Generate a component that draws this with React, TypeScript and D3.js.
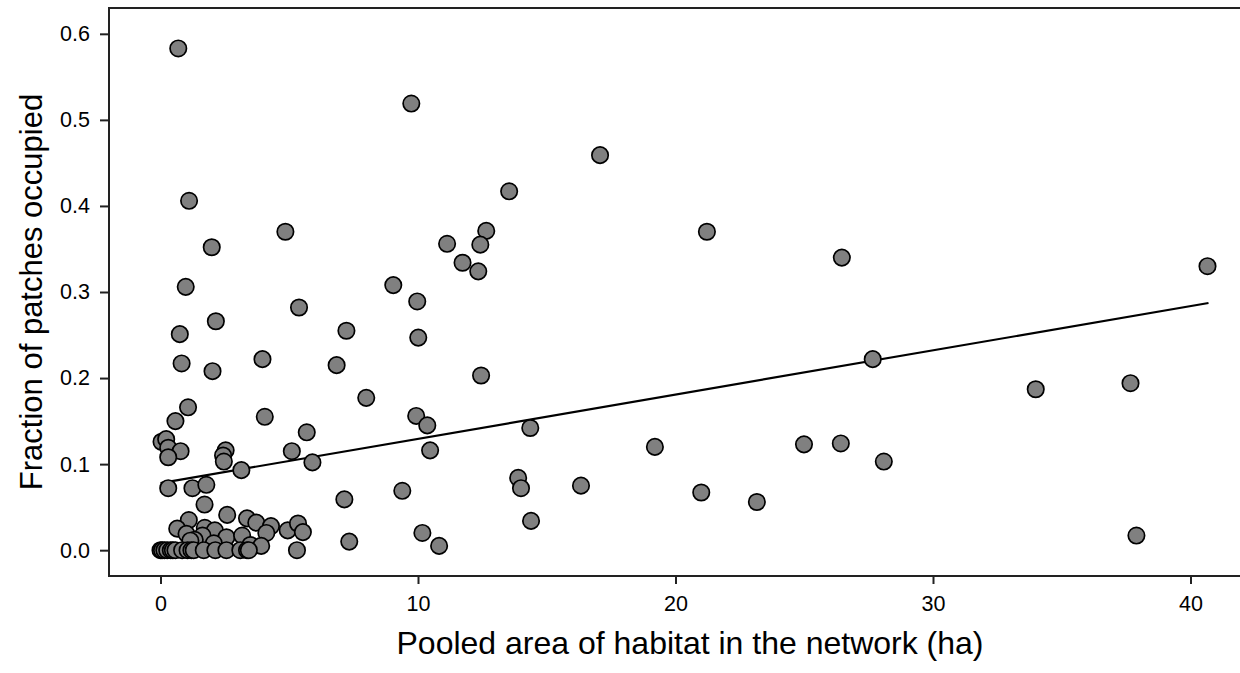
import React, { useEffect, useRef } from 'react';
import * as d3 from 'd3';

// pooled area (ha) and fraction of patches occupied
const areaHa = [
  0.69, 9.74, 17.07, 13.54, 1.11, 4.85, 12.65, 21.22, 1.99, 11.13,
  12.42, 11.73, 12.34, 26.46, 40.66, 9.04, 0.98, 5.38, 9.97, 2.15,
  0.75, 7.22, 10.01, 6.84, 3.96, 0.82, 27.66, 2.02, 7.99, 33.99,
  37.67, 12.45, 1.07, 4.05, 9.93, 0.58, 10.36, 14.36, 5.68, 0.04,
  0.22, 0.3, 0.78, 0.3, 2.53, 2.43, 2.46, 5.1, 5.9, 10.47,
  3.14, 19.2, 24.99, 26.42, 28.09, 13.89, 14.0, 16.33, 9.39, 21.0,
  23.16, 0.3, 1.24, 1.78, 7.14, 1.71, 1.1, 2.59, 3.36, 3.72,
  4.29, 4.11, 4.94, 5.34, 5.53, 14.39, 10.17, 10.82, 7.33, 37.9,
  0.65, 1.01, 1.72, 2.11, 1.63, 1.33, 2.56, 3.17, 2.07, 3.49,
  3.91, 1.16,
  0.0, 0.06, 0.15, 0.26, 0.4, 0.48, 0.58, 0.84, 1.05, 1.2,
  1.29, 1.68, 2.13, 2.56, 3.1, 3.36, 3.43, 5.3,
];
const fracOccupied = [
  0.583, 0.519, 0.459, 0.417, 0.406, 0.37, 0.371, 0.37, 0.352, 0.356,
  0.355, 0.334, 0.324, 0.34, 0.33, 0.308, 0.306, 0.282, 0.289, 0.266,
  0.251, 0.255, 0.247, 0.215, 0.222, 0.217, 0.222, 0.208, 0.177, 0.187,
  0.194, 0.203, 0.166, 0.155, 0.156, 0.15, 0.145, 0.142, 0.137, 0.126,
  0.129, 0.119, 0.115, 0.108, 0.116, 0.11, 0.103, 0.115, 0.102, 0.116,
  0.093, 0.12, 0.123, 0.124, 0.103, 0.084, 0.072, 0.075, 0.069, 0.067,
  0.056, 0.072, 0.072, 0.076, 0.059, 0.053, 0.035, 0.041, 0.037, 0.032,
  0.028, 0.02, 0.023, 0.031, 0.021, 0.034, 0.02, 0.005, 0.01, 0.017,
  0.025, 0.019, 0.026, 0.023, 0.017, 0.012, 0.015, 0.017, 0.008, 0.006,
  0.005, 0.011,
  0, 0, 0, 0, 0, 0, 0, 0, 0, 0,
  0, 0, 0, 0, 0, 0, 0, 0,
];

// fitted regression line: intercept and slope
const fitIntercept = 0.078;
const fitSlope = 0.00514;
const fitRange = [0, 40.7];

const xTicks = [0, 10, 20, 30, 40];
const yTicks = [0, 0.1, 0.2, 0.3, 0.4, 0.5, 0.6];

const xTitle = 'Pooled area of habitat in the network (ha)';
const yTitle = 'Fraction of patches occupied';

function App() {
  const ref = useRef<SVGSVGElement>(null);

  useEffect(() => {
    const width = 1240;
    const height = 673;
    const left = 109;
    const right = 1242;
    const top = 8;
    const bottom = 576;
    const font = 'Arial, "Liberation Sans", sans-serif';

    const svg = d3.select(ref.current);
    svg.selectAll('*').remove();
    svg.attr('width', width).attr('height', height);

    const x = d3.scaleLinear().domain([-2, 42]).range([left, right]);
    const y = d3.scaleLinear().domain([-0.03, 0.63]).range([bottom, top]);

    // frame (right side falls outside the picture)
    svg
      .append('path')
      .attr('d', `M${right},${top}H${left}V${bottom}H${right}`)
      .attr('fill', 'none')
      .attr('stroke', '#222')
      .attr('stroke-width', 2);

    const xAxis = svg
      .append('g')
      .attr('transform', `translate(0,${bottom})`)
      .call(
        d3
          .axisBottom(x)
          .tickValues(xTicks)
          .tickSize(8)
          .tickPadding(12)
          .tickFormat(d3.format('d'))
      );
    xAxis.select('.domain').remove();

    const yAxis = svg
      .append('g')
      .attr('transform', `translate(${left},0)`)
      .call(
        d3
          .axisLeft(y)
          .tickValues(yTicks)
          .tickSize(9)
          .tickPadding(10)
          .tickFormat(d3.format('.1f'))
      );
    yAxis.select('.domain').remove();

    svg
      .selectAll('.tick line')
      .attr('stroke', '#222')
      .attr('stroke-width', 2);
    svg
      .selectAll('.tick text')
      .attr('font-family', font)
      .attr('font-size', 21.5)
      .attr('fill', '#000');

    // regression line
    svg
      .append('line')
      .attr('x1', x(fitRange[0]))
      .attr('y1', y(fitIntercept + fitSlope * fitRange[0]))
      .attr('x2', x(fitRange[1]))
      .attr('y2', y(fitIntercept + fitSlope * fitRange[1]))
      .attr('stroke', '#000')
      .attr('stroke-width', 2.2);

    const points = areaHa.map((a, i) => ({ a, f: fracOccupied[i] }));
    svg
      .append('g')
      .selectAll('circle')
      .data(points)
      .enter()
      .append('circle')
      .attr('cx', (d) => x(d.a))
      .attr('cy', (d) => y(d.f))
      .attr('r', 8.2)
      .attr('fill', '#808080')
      .attr('stroke', '#000')
      .attr('stroke-width', 1.7);

    svg
      .append('text')
      .attr('x', 690)
      .attr('y', 654)
      .attr('text-anchor', 'middle')
      .attr('font-family', font)
      .attr('font-size', 32)
      .text(xTitle);

    svg
      .append('text')
      .attr('transform', `translate(42,292) rotate(-90)`)
      .attr('text-anchor', 'middle')
      .attr('font-family', font)
      .attr('font-size', 31)
      .text(yTitle);
  }, []);

  return (
    <svg
      ref={ref}
      style={{ position: 'absolute', left: 0, top: 0, background: '#fff' }}
    ></svg>
  );
}

export default App;
